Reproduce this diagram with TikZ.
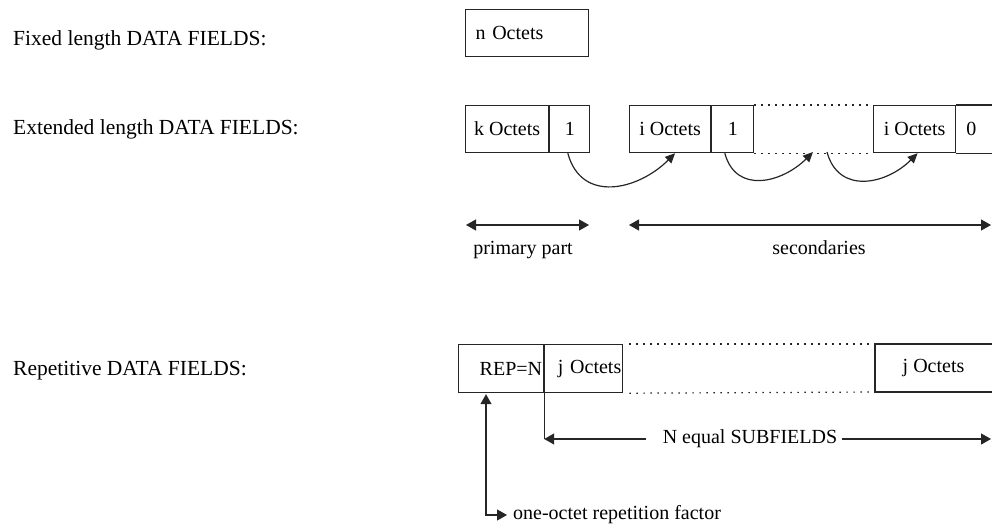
\documentclass[tikz,border=0pt]{standalone}
\usepackage{fontspec}
\setmainfont{Liberation Serif}
\usetikzlibrary{arrows.meta,calc}

\begin{document}
\begin{tikzpicture}[x=1pt,y=-1pt,
  ink/.style={draw=black!85, line width=1.2pt},
  field/.style={ink, rectangle, inner sep=0pt, minimum height=47pt, font=\fontsize{20}{24}\selectfont},
  rowlabel/.style={anchor=base west, inner sep=0pt, font=\fontsize{21.5}{26}\selectfont},
  note/.style={inner sep=0pt, font=\fontsize{20}{24}\selectfont},
  tip/.style={-{Triangle[length=10pt,width=11pt]}},
  tips/.style={{Triangle[length=10pt,width=11pt]}-{Triangle[length=10pt,width=11pt]}},
  ctip/.style={-{Triangle[length=10pt,width=9pt]}},
  chain/.style={ink, ctip, out=-75, in=-135, looseness=1.25},
  gap/.style={draw=black!85, line width=1.2pt, dash pattern=on 1.4pt off 5.6pt}
]
\useasboundingbox (0,0) rectangle (992,526);
\coordinate (edge) at (992,0);

% row captions
\node[rowlabel] (lfix) at (13,46) {Fixed length DATA FIELDS:};
\node[rowlabel] (lext) at (13,135) {Extended length DATA FIELDS:};
\node[rowlabel] (lrep) at (13,375) {Repetitive DATA FIELDS:};

% fixed length field
\node[field, anchor=north west, minimum width=123pt, text width=103pt, align=left]
  (nbox) at (465,9) {n Octets};

% extended length field: primary part
\node[field, anchor=north west, minimum width=83pt] (k1) at (465,105) {k Octets};
\node[field, anchor=north west, minimum width=40pt] (f1) at (k1.north east) {1};
% first secondary
\node[field, anchor=north west, minimum width=81pt] (i1) at (629,105) {i Octets};
\node[field, anchor=north west, minimum width=42pt] (f2) at (i1.north east) {1};
% last secondary, running off to the right
\node[field, anchor=north west, minimum width=82pt] (i3) at (873,105) {i Octets};
\node[note, anchor=west] (f3) at ($(i3.east)+(10,0)$) {0};
\draw[ink] (edge |- i3.north east) -- (i3.north east);
\draw[ink] (edge |- i3.south east) -- (i3.south east);

% omitted secondaries
\draw[gap] (f2.north east) -- (i3.north west);
\draw[gap] (f2.south east) -- (i3.south west);

% FX chaining
\coordinate (mid) at (813,152);
\draw[chain] ($(f1.south)+(-2,0)$) to ($(i1.south)+(5,0)$);
\draw[chain] ($(f2.south)+(-8,0)$) to (mid);
\draw[chain] ($(mid)+(14,0)$) to ($(i3.south)+(3,0)$);

% extents of the parts
\coordinate (pa) at (466,225);
\coordinate (pb) at (589,225);
\coordinate (sa) at (629,225);
\coordinate (sb) at (991,225);
\draw[ink, tips] (pa) -- (pb);
\draw[ink, tips] (sa) -- (sb);
\node[note, anchor=base] (lprim) at (523,255) {primary part};
\node[note, anchor=base] (lsec) at (819,255) {secondaries};

% repetitive field
\node[field, anchor=north west, minimum width=85pt, minimum height=48pt, text width=82pt, align=right]
  (rep) at (458,344) {REP=N};
\node[field, anchor=north west, minimum width=78pt, minimum height=48pt, text width=75pt, align=right]
  (j1) at (rep.north east) {j Octets};
\coordinate (j2nw) at (875,344);
\coordinate (j2sw) at (875,392);
\node[note] (j2) at (933.5,368) {j Octets};
\draw[ink] (edge |- j2nw) -- (j2nw) -- (j2sw) -- (edge |- j2sw);
\draw[gap] ($(j1.north east)+(6,0)$) -- (j2nw);
\draw[gap] ($(j1.south east)+(6,0)$) -- (j2sw);

% number of subfields
\node[note] (nsub) at (750,439) {N equal SUBFIELDS};
\coordinate (ncorner) at (rep.south east |- nsub.west);
\coordinate (nend) at (991,439);
\draw[ink] (rep.south east) -- (ncorner);
\draw[ink, tip] ($(nsub.west)+(-17,0)$) -- (ncorner);
\draw[ink, tip] ($(nsub.east)+(5,0)$) -- (nend);

% repetition factor
\node[note, anchor=west] (rfac) at (513,515) {one-octet repetition factor};
\draw[ink, tips] ($(rep.south west)+(28,1)$) |- ($(rfac.west)+(-6,0)$);
\end{tikzpicture}
\end{document}
